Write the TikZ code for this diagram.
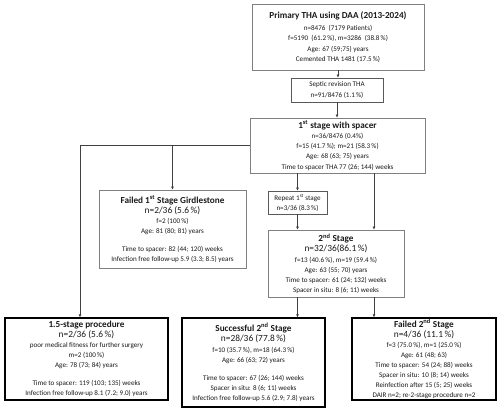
\documentclass[tikz,border=0pt]{standalone}
\usepackage{fontspec}
\setmainfont{Carlito}
\usetikzlibrary{arrows.meta,calc}
\definecolor{boxgray}{HTML}{808080}
\definecolor{darkbox}{HTML}{595959}
\definecolor{linegray}{HTML}{404040}
\definecolor{txt}{HTML}{1A1A1A}
\newcommand\smf{\fontsize{7.1}{10.1}\selectfont}
\newcommand\ttl{\fontsize{9.2}{11}\selectfont\bfseries}
\newcommand\nnf{\fontsize{9.4}{11}\selectfont}
\newcommand\sst[1]{\textsuperscript{#1}}
\begin{document}
\begin{tikzpicture}[x=1pt,y=-1pt,
  box/.style={draw=boxgray, line width=0.9pt, fill=white, inner sep=0pt, align=center, text=txt, font=\smf},
  darkbx/.style={box, draw=darkbox},
  endbox/.style={box, draw=black, line width=1.3pt},
  conn/.style={draw=linegray, line width=0.8pt, -{Latex[length=3pt,width=3pt]}},
  plain/.style={draw=linegray, line width=0.8pt}]
\useasboundingbox[fill=white] (0,0) rectangle (500,412);

\node[box, minimum width=172pt, minimum height=66pt] (top) at (338,37)
 {{\ttl Primary THA using DAA (2013-2024)}\\[2pt]
  n=8476\ \ (7179 Patients)\\
  f=5190\ \ (61.2\,\%), m=3286\ \ (38.8\,\%)\\
  Age: 67 (59;75) years\\
  Cemented THA 1481 (17.5\,\%)};

\node[darkbx, minimum width=92pt, minimum height=24pt] (septic) at (337,90)
 {Septic revision THA\\ n=91/8476 (1.1\,\%)};

\node[box, minimum width=175pt, minimum height=55pt] (first) at (337.5,145.5)
 {{\ttl 1\sst{st} stage with spacer}\\
  n=36/8476 (0.4\%)\\
  f=15 (41.7\,\%); m=21 (58.3\,\%)\\
  Age: 68 (63; 75) years\\
  Time to spacer THA 77 (26; 144) weeks};

\node[box, minimum width=147pt, minimum height=78pt] (girdle) at (172.5,229)
 {{\ttl Failed 1\sst{st} Stage Girdlestone}\\
  {\nnf n=2/36 (5.6\,\%)}\\
  f=2 (100\,\%)\\
  Age: 81 (80; 81) years\\[8pt]
  Time to spacer: 82 (44; 120) weeks\\
  Infection free follow-up 5.9 (3.3; 8.5) years};

\node[darkbx, minimum width=59pt, minimum height=23pt] (repeat) at (297.5,202.5)
 {Repeat 1\sst{st} stage\\ n=3/36 (8.3\,\%)};

\node[box, minimum width=136pt, minimum height=67pt] (second) at (336,263.5)
 {{\ttl 2\sst{nd} Stage}\\
  {\nnf n=32/36(86.1\,\%)}\\
  f=13 (40.6\,\%), m=19 (59.4\,\%)\\
  Age: 63 (55; 70) years\\
  Time to spacer: 61 (24; 132) weeks\\
  Spacer in situ: 8 (6; 11) weeks};

\node[endbox, minimum width=163pt, minimum height=82pt] (onefive) at (86.5,359)
 {{\ttl 1.5-stage procedure}\\
  {\nnf n=2/36 (5.6\,\%)}\\
  poor medical fitness for further surgery\\
  m=2 (100\,\%)\\
  Age: 78 (73; 84) years\\[8pt]
  Time to spacer: 119 (103; 135) weeks\\
  Infection free follow-up 8.1 (7.2; 9.0) years};

\node[endbox, minimum width=143pt, minimum height=89pt] (success) at (253.5,362.5)
 {{\ttl Successful 2\sst{nd} Stage}\\
  {\nnf n=28/36 (77.8\,\%)}\\
  f=10 (35.7\,\%), m=18 (64.3\,\%)\\
  Age: 66 (63; 72) years\\[8pt]
  Time to spacer: 67 (26; 144) weeks\\
  Spacer in situ: 8 (6; 11) weeks\\
  Infection free follow-up 5.6 (2.9; 7.8) years};

\node[endbox, minimum width=144pt, minimum height=82pt] (failed) at (424,359)
 {{\ttl Failed 2\sst{nd} Stage}\\
  {\nnf n=4/36 (11.1\,\%)}\\
  f=3 (75.0\,\%), m=1 (25.0\,\%)\\
  Age: 61 (48; 63)\\
  Time to spacer: 54 (24; 88) weeks\\
  Spacer in situ: 10 (8; 14) weeks\\
  Reinfection after 15 (5; 25) weeks\\
  DAIR n=2; re-2-stage procedure n=2};

\coordinate (oneIn) at ([xshift=-6.5pt]onefive.north);
\coordinate (fA) at (first.south -| repeat.north);
\coordinate (fB) at ([xshift=36.5pt]first.south);

\draw[conn] (top.south) -- (top.south |- septic.north);
\draw[conn] (septic.south) -- (septic.south |- first.north);
\draw[plain] (first.west) -- (first.west -| oneIn);
\draw[conn] (first.west -| oneIn) -- (oneIn);
\draw[conn] (first.west -| girdle.north) -- (girdle.north);
\draw[conn] (fA) -- (repeat.north);
\draw[conn] (repeat.south) -- (repeat.south |- second.north);
\draw[conn] (fB) -- (fB |- second.north);
\draw[conn] ([xshift=-38.5pt]second.south) -- ([xshift=-38.5pt]second.south |- success.north);
\draw[conn] ([xshift=38pt]second.south) -- ([xshift=38pt]second.south |- failed.north);
\end{tikzpicture}
\end{document}
